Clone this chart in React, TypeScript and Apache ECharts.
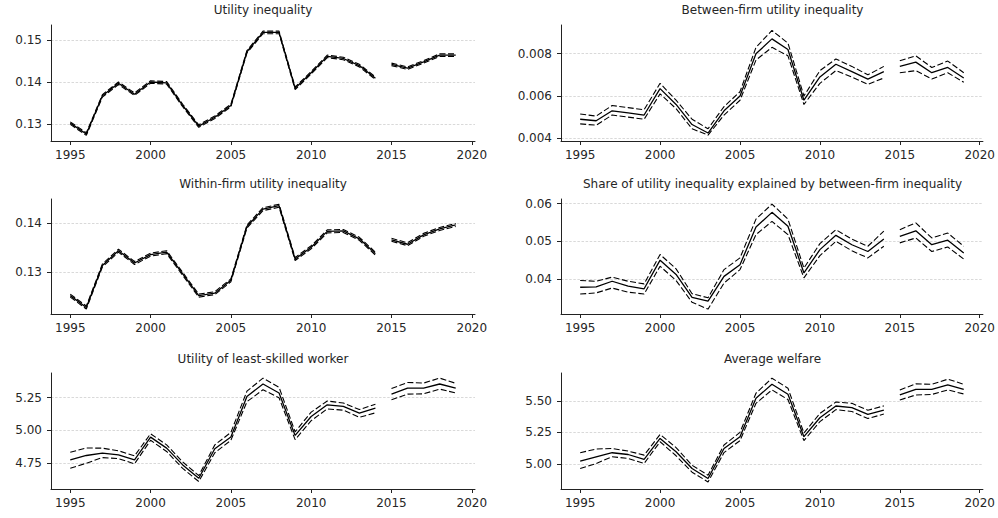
import React, { useEffect, useRef } from "react";
import * as echarts from "echarts";

// ---------------- data ----------------
const years = [
  1995, 1996, 1997, 1998, 1999, 2000, 2001, 2002, 2003, 2004, 2005, 2006, 2007,
  2008, 2009, 2010, 2011, 2012, 2013, 2014, 2015, 2016, 2017, 2018, 2019,
];
// years where the series is broken into separate segments
const segments: [number, number][] = [
  [1995, 2014],
  [2015, 2019],
];
const xTicks = [1995, 2000, 2005, 2010, 2015, 2020];

const titles = [
  "Utility inequality",
  "Between-firm utility inequality",
  "Within-firm utility inequality",
  "Share of utility inequality explained by between-firm inequality",
  "Utility of least-skilled worker",
  "Average welfare",
];

// Panel 1: Utility inequality
const utilMid = [0.1302, 0.1276, 0.1367, 0.1397, 0.1371, 0.14, 0.1398, 0.1344, 0.1295, 0.1316, 0.1344, 0.1472, 0.1518, 0.1518, 0.1385, 0.1422, 0.1461, 0.1456, 0.1439, 0.1409, 0.1442, 0.1433, 0.1448, 0.1464, 0.1464];
const utilHi = [0.1305, 0.1279, 0.137, 0.14, 0.1374, 0.1403, 0.1401, 0.1347, 0.1298, 0.1319, 0.1347, 0.1475, 0.1521, 0.1521, 0.1388, 0.1425, 0.1464, 0.1459, 0.1442, 0.1412, 0.1445, 0.1436, 0.1451, 0.1467, 0.1467];
const utilLo = [0.1299, 0.1273, 0.1364, 0.1394, 0.1368, 0.1397, 0.1395, 0.1341, 0.1292, 0.1313, 0.1341, 0.1469, 0.1515, 0.1515, 0.1382, 0.1419, 0.1458, 0.1453, 0.1436, 0.1406, 0.1439, 0.143, 0.1445, 0.1461, 0.1461];

// Panel 2: Between-firm utility inequality
const betwMid = [0.0049, 0.00483, 0.0053, 0.0052, 0.0051, 0.00635, 0.0056, 0.00465, 0.00425, 0.0053, 0.006, 0.008, 0.0087, 0.0082, 0.0058, 0.0069, 0.0075, 0.00715, 0.0068, 0.00715, 0.0074, 0.0076, 0.0071, 0.00735, 0.00685];
const betwHi = [0.00515, 0.00505, 0.00555, 0.00545, 0.00535, 0.0066, 0.0058, 0.0049, 0.00445, 0.0055, 0.0062, 0.0083, 0.0091, 0.0085, 0.006, 0.0072, 0.00775, 0.0074, 0.007, 0.0074, 0.00767, 0.0079, 0.00735, 0.00765, 0.0071];
const betwLo = [0.00468, 0.00462, 0.0051, 0.005, 0.0049, 0.0061, 0.0054, 0.00445, 0.00415, 0.0051, 0.0058, 0.0077, 0.0083, 0.0079, 0.0056, 0.0066, 0.0072, 0.0069, 0.00655, 0.00685, 0.0071, 0.0072, 0.0068, 0.0071, 0.00665];

// Panel 3: Within-firm utility inequality
const withMid = [0.1253, 0.1229, 0.1314, 0.1344, 0.1319, 0.1336, 0.1341, 0.1297, 0.1253, 0.1258, 0.1284, 0.1393, 0.1428, 0.1435, 0.1327, 0.1351, 0.1383, 0.1384, 0.1368, 0.1338, 0.1366, 0.1357, 0.1376, 0.1388, 0.1396];
const withHi = [0.1256, 0.1232, 0.1317, 0.1347, 0.1322, 0.1339, 0.1344, 0.13, 0.1256, 0.1261, 0.1287, 0.1396, 0.1431, 0.1438, 0.133, 0.1354, 0.1386, 0.1387, 0.1371, 0.1341, 0.1369, 0.136, 0.1379, 0.1391, 0.1399];
const withLo = [0.125, 0.1226, 0.1311, 0.1341, 0.1316, 0.1333, 0.1338, 0.1294, 0.125, 0.1255, 0.1281, 0.139, 0.1425, 0.1432, 0.1324, 0.1348, 0.138, 0.1381, 0.1365, 0.1335, 0.1363, 0.1354, 0.1373, 0.1385, 0.1393];

// Panel 4: Share explained by between-firm inequality
const shareMid = [0.0378, 0.0379, 0.0394, 0.0381, 0.0374, 0.045, 0.0412, 0.0351, 0.0341, 0.0407, 0.0438, 0.0538, 0.0577, 0.054, 0.0416, 0.0478, 0.0516, 0.0491, 0.0473, 0.0506, 0.0513, 0.0528, 0.0491, 0.0503, 0.0469];
const shareHi = [0.0396, 0.0394, 0.0405, 0.0394, 0.0387, 0.0465, 0.0427, 0.0361, 0.035, 0.0425, 0.0456, 0.0559, 0.0599, 0.0559, 0.0429, 0.0494, 0.0531, 0.0506, 0.0487, 0.0527, 0.0531, 0.0549, 0.0509, 0.0522, 0.0487];
const shareLo = [0.036, 0.0363, 0.0376, 0.0365, 0.036, 0.0434, 0.0396, 0.0338, 0.032, 0.0389, 0.0425, 0.0518, 0.0553, 0.0518, 0.0403, 0.0462, 0.05, 0.0475, 0.0456, 0.0487, 0.0496, 0.0509, 0.0473, 0.0485, 0.0453];

// Panel 5: Utility of least-skilled worker
const leastMid = [4.776, 4.809, 4.827, 4.814, 4.776, 4.949, 4.865, 4.737, 4.635, 4.86, 4.95, 5.26, 5.355, 5.286, 4.962, 5.107, 5.196, 5.184, 5.133, 5.171, 5.278, 5.324, 5.324, 5.355, 5.324];
const leastHi = [4.834, 4.866, 4.865, 4.845, 4.806, 4.975, 4.89, 4.76, 4.655, 4.89, 4.985, 5.3, 5.4, 5.33, 4.99, 5.14, 5.225, 5.21, 5.16, 5.2, 5.32, 5.367, 5.362, 5.4, 5.36];
const leastLo = [4.712, 4.75, 4.793, 4.785, 4.745, 4.925, 4.84, 4.71, 4.61, 4.83, 4.925, 5.22, 5.311, 5.25, 4.93, 5.075, 5.165, 5.155, 5.1, 5.135, 5.235, 5.278, 5.28, 5.316, 5.286];

// Panel 6: Average welfare
const welfMid = [5.022, 5.057, 5.089, 5.075, 5.036, 5.202, 5.097, 4.964, 4.885, 5.123, 5.216, 5.52, 5.631, 5.552, 5.216, 5.366, 5.459, 5.446, 5.393, 5.427, 5.546, 5.591, 5.591, 5.626, 5.591];
const welfHi = [5.089, 5.118, 5.123, 5.102, 5.07, 5.234, 5.13, 4.99, 4.911, 5.15, 5.25, 5.56, 5.679, 5.6, 5.245, 5.4, 5.49, 5.48, 5.425, 5.46, 5.586, 5.634, 5.63, 5.671, 5.631];
const welfLo = [4.964, 5.004, 5.057, 5.044, 5.004, 5.176, 5.065, 4.935, 4.858, 5.09, 5.185, 5.48, 5.586, 5.51, 5.185, 5.335, 5.43, 5.415, 5.36, 5.395, 5.507, 5.546, 5.55, 5.586, 5.554];

const yTicks = [
  [0.13, 0.14, 0.15],
  [0.004, 0.006, 0.008],
  [0.13, 0.14],
  [0.04, 0.05, 0.06],
  [4.75, 5.0, 5.25],
  [5.0, 5.25, 5.5],
];
const yDecimals = [2, 3, 2, 2, 2, 2];
const yRanges: [number, number][] = [
  [0.12595, 0.15357],
  [0.003872, 0.009357],
  [0.12158, 0.14486],
  [0.0307, 0.06125],
  [4.553, 5.439],
  [4.802, 5.72],
];
const xRange: [number, number] = [1993.8, 2020.2];

const panelSeries = [
  [utilMid, utilHi, utilLo],
  [betwMid, betwHi, betwLo],
  [withMid, withHi, withLo],
  [shareMid, shareHi, shareLo],
  [leastMid, leastHi, leastLo],
  [welfMid, welfHi, welfLo],
];

// ---------------- layout ----------------
const FONT = '"DejaVu Sans", "Liberation Sans", sans-serif';
const TEXT = "#262626";
const grids = [
  { left: 51, top: 25, width: 424, height: 116 },
  { left: 561, top: 25, width: 423, height: 116 },
  { left: 51, top: 199, width: 424, height: 115 },
  { left: 561, top: 199, width: 423, height: 115 },
  { left: 51, top: 373, width: 424, height: 116 },
  { left: 561, top: 373, width: 423, height: 116 },
];
const titleTops = [4, 4, 178, 178, 353, 353];

function buildOption() {
  const xAxis: any[] = [];
  const yAxis: any[] = [];
  const series: any[] = [];
  const title: any[] = [];

  grids.forEach((g, i) => {
    title.push({
      text: titles[i],
      left: g.left + g.width / 2,
      top: titleTops[i],
      textAlign: "center",
      padding: 0,
      textStyle: { fontSize: 12, fontWeight: "normal", color: TEXT, fontFamily: FONT },
    });
    xAxis.push({
      type: "value",
      gridIndex: i,
      min: xRange[0],
      max: xRange[1],
      axisLine: { show: true, onZero: false, lineStyle: { color: "#222", width: 1 } },
      axisTick: { show: true, length: 4, customValues: xTicks, lineStyle: { color: "#222", width: 1 } },
      axisLabel: {
        customValues: xTicks,
        margin: 8,
        fontSize: 12,
        color: TEXT,
        fontFamily: FONT,
        formatter: (v: number) => String(Math.round(v)),
      },
      splitLine: { show: false },
    });
    const dec = yDecimals[i];
    yAxis.push({
      type: "value",
      gridIndex: i,
      min: yRanges[i][0],
      max: yRanges[i][1],
      axisLine: { show: true, onZero: false, lineStyle: { color: "#222", width: 1 } },
      axisTick: { show: true, length: 4, customValues: yTicks[i], lineStyle: { color: "#222", width: 1 } },
      axisLabel: {
        customValues: yTicks[i],
        margin: 9,
        fontSize: 12,
        color: TEXT,
        fontFamily: FONT,
        formatter: (v: number) => v.toFixed(dec),
      },
      splitLine: { show: true, lineStyle: { color: "#cfcfcf", width: 0.8, type: [2.5, 1.6] } },
    });

    const [mid, hi, lo] = panelSeries[i];
    const lines = [
      { data: mid, style: { color: "#000", width: 1.3, type: "solid" } },
      { data: hi, style: { color: "#000", width: 1.1, type: [6, 2.5] } },
      { data: lo, style: { color: "#000", width: 1.1, type: [6, 2.5] } },
    ];
    lines.forEach((ln) => {
      segments.forEach(([a, b]) => {
        const pts: [number, number][] = [];
        years.forEach((yr, k) => {
          if (yr >= a && yr <= b) pts.push([yr, ln.data[k]]);
        });
        series.push({
          type: "line",
          xAxisIndex: i,
          yAxisIndex: i,
          data: pts,
          showSymbol: false,
          symbol: "none",
          silent: true,
          lineStyle: ln.style,
        });
      });
    });
  });

  return {
    animation: false,
    backgroundColor: "#ffffff",
    textStyle: { fontFamily: FONT },
    title,
    grid: grids.map((g) => ({ ...g, containLabel: false })),
    xAxis,
    yAxis,
    series,
  };
}

export default function App() {
  const ref = useRef<HTMLDivElement>(null);
  useEffect(() => {
    if (!ref.current) return;
    const chart = echarts.init(ref.current, undefined, { renderer: "svg" });
    chart.setOption(buildOption() as any);
    return () => chart.dispose();
  }, []);
  return (
    <div
      ref={ref}
      style={{ position: "fixed", left: 0, top: 0, width: 998, height: 518, background: "#fff" }}
    />
  );
}
